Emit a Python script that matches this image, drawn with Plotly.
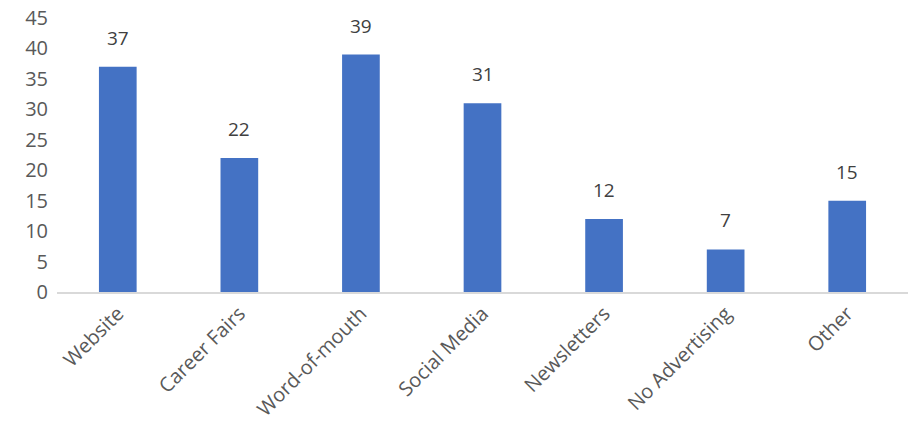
import plotly.graph_objects as go

categories = ["Website", "Career Fairs", "Word-of-mouth", "Social Media", "Newsletters", "No Advertising", "Other"]
values = [37, 22, 39, 31, 12, 7, 15]
y_ticks = [0, 5, 10, 15, 20, 25, 30, 35, 40, 45]

font_family = "Open Sans, Noto Sans, sans-serif"
text_color = "#595959"

fig = go.Figure(go.Bar(
    x=categories, y=values,
    marker=dict(color="#4472C4", line=dict(width=0)),
))

for c, v in zip(categories, values):
    fig.add_annotation(x=c, y=v, text=str(v), showarrow=False, yanchor="bottom",
                       yshift=14, font=dict(size=19, color="#404040", family=font_family))

fig.update_layout(
    width=912, height=436,
    margin=dict(l=57, r=4, t=15, b=144),
    paper_bgcolor="white", plot_bgcolor="white",
    bargap=0.69,
    showlegend=False,
    font=dict(family=font_family, size=20, color=text_color),
)
fig.update_xaxes(showline=True, linecolor="#D9D9D9", linewidth=2, tickangle=-45,
                 showgrid=False, ticks="", tickfont=dict(size=20, color=text_color))
fig.update_yaxes(range=[0, 45], tickvals=y_ticks, showgrid=False, zeroline=False,
                 showline=False, ticks="", ticklabelstandoff=8,
                 tickfont=dict(size=20, color=text_color))

fig.write_html("out.html")
